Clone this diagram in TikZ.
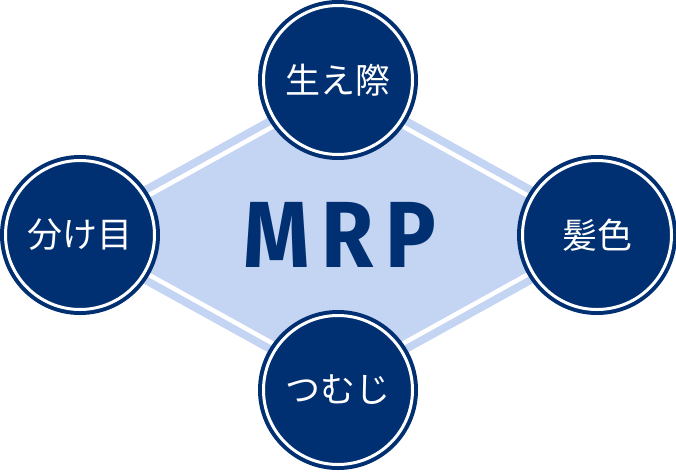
\documentclass[tikz,border=0pt]{standalone}
\usepackage{fontspec}
\usepackage{tikz}
\newfontfamily\jpfont{Noto Sans CJK JP}
\newfontfamily\logofont[LetterSpace=14]{Fira Sans}
\definecolor{navy}{RGB}{0,48,114}
\definecolor{paleblue}{RGB}{196,212,243}

\begin{document}
\begin{tikzpicture}[x=1pt, y=-1pt,
		topic/.style={circle, fill=navy, draw=navy, line width=4pt, double=white, double distance=3pt,
			minimum size=149pt, inner sep=0pt, text=white, font=\jpfont\fontsize{35}{35}\selectfont}]
			\useasboundingbox (0,0) rectangle (676,472);
			
			% diamond behind the circles
			\fill[paleblue] (338,79) -- (56,235) -- (338,391) -- (620,235) -- cycle;
			\draw[white, line width=4.5pt] (338,90.5) -- (77,235) -- (338,379.5) -- (599,235) -- cycle;
			
			\node[font=\logofont\bfseries\fontsize{94}{94}\selectfont, text=navy, xscale=0.9] (mrp) at (340,235) {MRP};
			
			\node[topic] (hae) at (338,80) {生え際};
			\node[topic] (wake) at (80,235) {分け目};
			\node[topic] (kami) at (597,235) {髪色};
			\node[topic] (tsumu) at (338,390) {つむじ};
		\end{tikzpicture}
\end{document}
